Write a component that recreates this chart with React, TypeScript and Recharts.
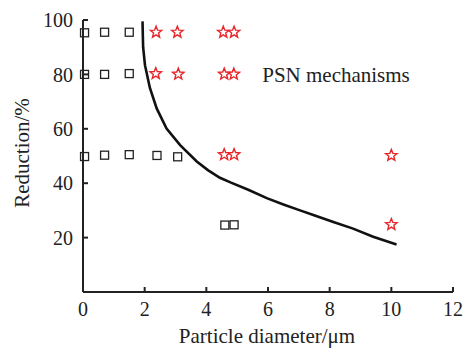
import React from 'react';
import { ComposedChart, Scatter, XAxis, YAxis, ReferenceDot } from 'recharts';

// open squares (no PSN)
const squarePoints = [
  { x: 0.05, y: 95.3 }, { x: 0.7, y: 95.5 }, { x: 1.5, y: 95.5 },
  { x: 0.05, y: 80 }, { x: 0.7, y: 80 }, { x: 1.5, y: 80.3 },
  { x: 0.05, y: 49.8 }, { x: 0.7, y: 50.3 }, { x: 1.5, y: 50.5 }, { x: 2.4, y: 50.2 }, { x: 3.07, y: 49.7 },
  { x: 4.6, y: 24.6 }, { x: 4.9, y: 24.7 },
];

// red stars (PSN)
const starPoints = [
  { x: 2.37, y: 95.5 }, { x: 3.06, y: 95.5 }, { x: 4.55, y: 95.5 }, { x: 4.9, y: 95.5 },
  { x: 2.36, y: 80.3 }, { x: 3.09, y: 80.1 }, { x: 4.58, y: 80.1 }, { x: 4.89, y: 80.1 },
  { x: 4.58, y: 50.5 }, { x: 4.9, y: 50.5 }, { x: 10.0, y: 50.2 },
  { x: 10.0, y: 24.8 },
];

// boundary curve
const boundary = [
  { x: 1.93, y: 99.5 }, { x: 1.95, y: 90 }, { x: 2.01, y: 83.4 }, { x: 2.17, y: 75 },
  { x: 2.39, y: 67.5 }, { x: 2.71, y: 60.1 }, { x: 3.15, y: 54 }, { x: 3.69, y: 48 },
  { x: 4.05, y: 44.8 }, { x: 4.44, y: 42 }, { x: 4.8, y: 40.2 }, { x: 5.36, y: 37.6 },
  { x: 5.96, y: 34.5 }, { x: 6.5, y: 32.2 }, { x: 7.04, y: 30 }, { x: 7.47, y: 28.3 },
  { x: 8.12, y: 25.7 }, { x: 8.76, y: 23.3 }, { x: 9.41, y: 20.3 }, { x: 10.17, y: 17.5 },
];

const xTicks = [0, 2, 4, 6, 8, 10, 12];
const yTicks = [20, 40, 60, 80, 100];

const FONT = '"Liberation Serif", "Times New Roman", serif';
const INK = '#222222';
const RED = '#e8262a';

const Square = ({ cx, cy }: any) => (
  <rect x={cx - 4} y={cy - 4} width={8} height={8} fill="none" stroke={INK} strokeWidth={1.3} />
);

const Star = ({ cx, cy }: any) => {
  const pts: string[] = [];
  for (let i = 0; i < 10; i++) {
    const r = i % 2 === 0 ? 6 : 2.6;
    const a = -Math.PI / 2 + (i * Math.PI) / 5;
    pts.push(`${cx + r * Math.cos(a)},${cy + r * Math.sin(a)}`);
  }
  return <polygon points={pts.join(' ')} fill="none" stroke={RED} strokeWidth={1.4} strokeLinejoin="miter" />;
};

const NoDot = () => <g />;

// inward tick marks
const XTick = ({ x, y, payload }: any) => (
  <g>
    <path d={`M${x},${y - 10}L${x},${y - 15}`} stroke={INK} strokeWidth={2} fill="none" />
    <text x={x} y={y} dy="0.71em" textAnchor="middle" fontFamily={FONT} fontSize={20} fill={INK}>
      {payload.value}
    </text>
  </g>
);

const YTick = ({ x, y, payload }: any) => (
  <g>
    <path d={`M${x + 10},${y}L${x + 15},${y}`} stroke={INK} strokeWidth={2} fill="none" />
    <text x={x} y={y} dy="0.355em" textAnchor="end" fontFamily={FONT} fontSize={20} fill={INK}>
      {payload.value}
    </text>
  </g>
);

const XTitle = () => (
  <text x={267} y={343} textAnchor="middle" fontFamily={FONT} fontSize={21} fill={INK}>
    Particle diameter/μm
  </text>
);

const YTitle = () => (
  <text x={22} y={153} transform="rotate(-90 22 153)" textAnchor="middle" dominantBaseline="central"
    fontFamily={FONT} fontSize={21} fill={INK}>
    Reduction/%
  </text>
);

export default function App() {
  return (
    <div style={{ position: 'absolute', left: 0, top: 0, width: 466, height: 348, background: '#fff' }}>
      <ComposedChart width={466} height={348} margin={{ top: 20, right: 13, bottom: 0, left: 0 }}>
        <Scatter data={boundary} fill="none" line={{ stroke: '#111', strokeWidth: 2.6 }} lineType="joint"
          shape={<NoDot />} isAnimationActive={false} />
        <Scatter data={squarePoints} fill="none" shape={<Square />} isAnimationActive={false} />
        <Scatter data={starPoints} fill="none" shape={<Star />} isAnimationActive={false} />
        <ReferenceDot x={5.65} y={80} r={0} stroke="none" fill="none"
          label={{ value: 'PSN mechanisms', position: 'right', offset: 5, fontFamily: FONT, fontSize: 21, fill: INK }} />
        <XAxis
          type="number"
          dataKey="x"
          domain={[0, 12]}
          ticks={xTicks}
          height={56}
          tickSize={0}
          tickMargin={10}
          tickLine={false}
          tick={<XTick />}
          stroke={INK}
          axisLine={{ stroke: INK, strokeWidth: 2 }}
          label={{ content: () => <XTitle /> }}
        />
        <YAxis
          type="number"
          dataKey="y"
          domain={[0, 100]}
          ticks={yTicks}
          width={83}
          tickSize={0}
          tickMargin={10}
          tickLine={false}
          tick={<YTick />}
          stroke={INK}
          axisLine={{ stroke: INK, strokeWidth: 2 }}
          label={{ content: () => <YTitle /> }}
        />
      </ComposedChart>
    </div>
  );
}
